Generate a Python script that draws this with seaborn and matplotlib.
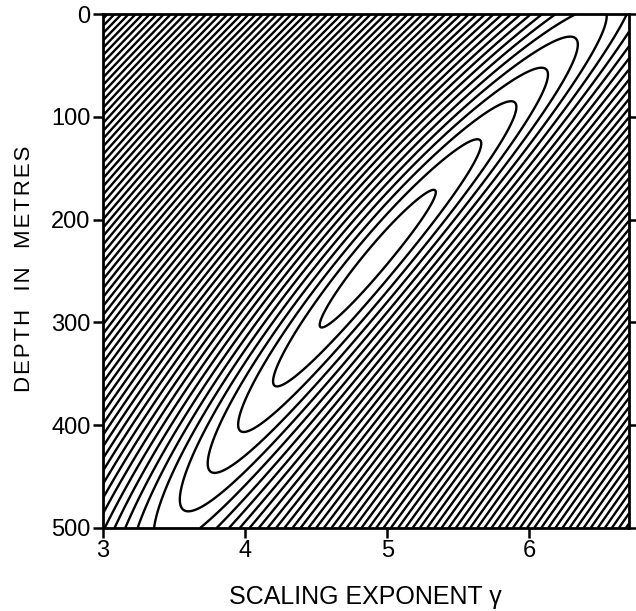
import numpy as np
import matplotlib
matplotlib.use("Agg")
import matplotlib.pyplot as plt
import seaborn as sns

# axis ranges and ticks
x_range = [3.0, 6.7]
depth_range = [0, 500]
x_ticks = [3, 4, 5, 6]
depth_ticks = [0, 100, 200, 300, 400, 500]

# misfit valley
x_centre = 4.935        # scaling exponent at the minimum
d_centre = 236.0        # depth (m) at the minimum
valley_slope = 170.0    # metres of depth per unit of exponent along the valley
valley_bow = 2.0e-6     # slight bend of the valley at both ends
sigma = 0.049           # exponent step between neighbouring contours, far field
lam_up = 31.3           # metres per level above the minimum
p_up = 1.073
lam_down = 31.5         # metres per level below the minimum
floor = 4.65            # value at the minimum
first_level = 5.14
level_step = 1.0
n_levels = 80

sns.set_theme(style="ticks")
plt.rcParams["font.family"] = ["Liberation Sans", "DejaVu Sans"]
plt.rcParams["text.color"] = "black"

x = np.linspace(x_range[0], x_range[1], 700)
d = np.linspace(depth_range[0], depth_range[1], 700)
X, D = np.meshgrid(x, d)
dd = D - d_centre
xc = x_centre - dd / valley_slope + valley_bow * dd ** 2
s = (X - xc) / sigma
g = np.where(dd < 0, (np.abs(dd) / lam_up) ** p_up, dd / lam_down)
F = np.sqrt(s ** 2 + g ** 2 + floor ** 2)
levels = first_level + level_step * np.arange(n_levels)

fig = plt.figure(figsize=(6.36, 6.11), dpi=100)
ax = fig.add_axes([0.162, 0.136, 0.827, 0.841])
ax.contour(X, D, F, levels=levels, colors="black", linewidths=1.7)

ax.set_xlim(*x_range)
ax.set_ylim(depth_range[1], depth_range[0])
ax.set_xticks(x_ticks)
ax.set_yticks(depth_ticks)
ax.tick_params(axis="both", direction="out", length=7, width=1.8,
               labelsize=17, colors="black", pad=2)
ax.tick_params(axis="y", right=True, labelright=False)
for sp in ax.spines.values():
    sp.set_linewidth(2)
    sp.set_color("black")

# axis titles placed by hand, like the lettering of the original figure
fig.text(0.575, 0.023, "SCALING EXPONENT \u03b3", fontsize=18,
         ha="center", va="center")
hs = "\u200a"
ylab = "   ".join(hs.join(w) for w in ["DEPTH", "IN", "METRES"])
fig.text(0.038, 0.56, ylab, fontsize=16, rotation=90,
         ha="center", va="center")

fig.savefig("out.png", dpi=100, facecolor="white")
